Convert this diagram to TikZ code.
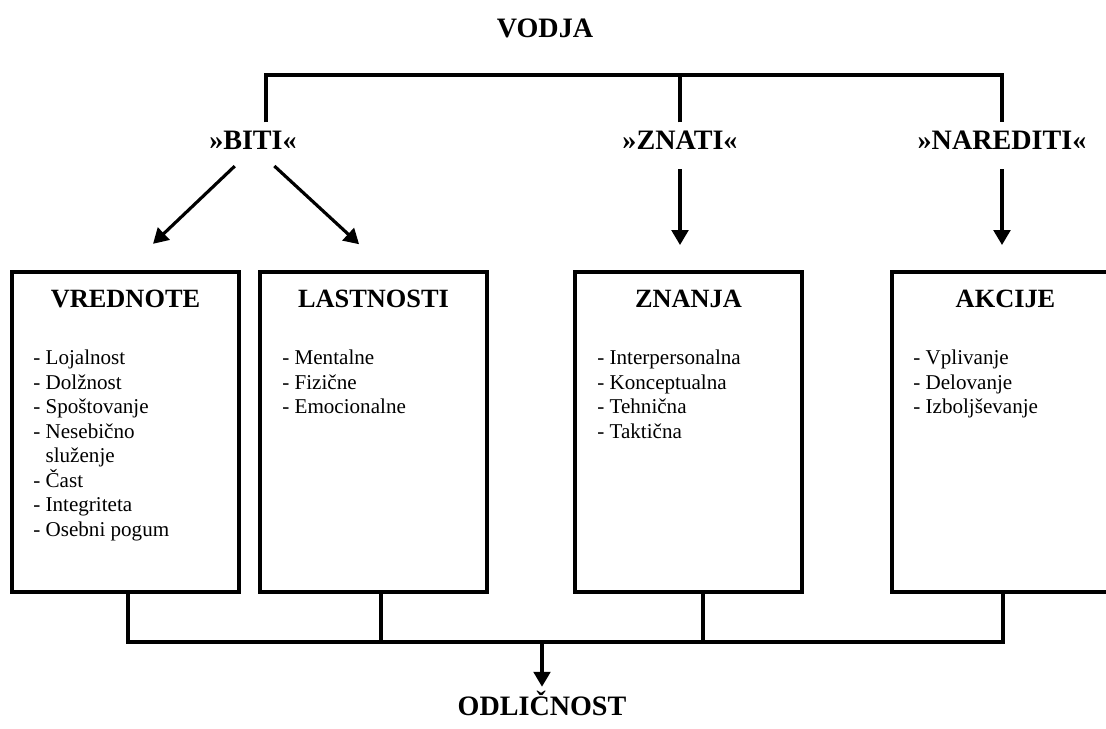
\documentclass[tikz,border=0pt]{standalone}
\usepackage{fontspec}
\setmainfont{Liberation Serif}
\usetikzlibrary{arrows.meta}

\begin{document}
\begin{tikzpicture}[
    x=0.02cm, y=-0.02cm,
    >={Triangle[length=8.5pt, width=9.5pt]},
    link/.style={line width=1.8pt},
    arrow/.style={->, line width=1.8pt},
    head/.style={font=\bfseries\fontsize{16}{19}\selectfont, anchor=base, inner sep=5pt},
    box/.style={draw, line width=2.3pt, minimum width=4.54cm, minimum height=6.4cm, inner sep=0pt},
    title/.style={font=\bfseries\fontsize{15}{18}\selectfont, anchor=base},
    item/.style={font=\fontsize{12}{14}\selectfont, anchor=base west, inner sep=0pt}
  ]

  \useasboundingbox (0,0) rectangle (1106,729);
  \clip (0,0) rectangle (1106,729);

  % Naslovi
  \node[head] (vodja)     at (545,38)  {VODJA};
  \node[head] (biti)      at (253,150) {»BITI«};
  \node[head] (znati)     at (680,150) {»ZNATI«};
  \node[head] (narediti)  at (1002,150) {»NAREDITI«};
  \node[head, inner sep=2pt] (odlicnost) at (542,715) {ODLIČNOST};

  % Okvirji
  \node[box] (vrednote)  at (125.5,432) {};
  \node[box] (lastnosti) at (373.5,432) {};
  \node[box] (znanja)    at (688.5,432) {};
  \node[box] (akcije)    at (1005.5,432) {};

  \foreach \n/\x/\t in {vrednote/125.5/VREDNOTE, lastnosti/373.5/LASTNOSTI, znanja/688.5/ZNANJA, akcije/1005.5/AKCIJE}
    \node[title] (t\n) at (\x,308) {\t};

  % Alineje
  \foreach \t [count=\i] in {- Lojalnost, - Dolžnost, - Spoštovanje, - Nesebično, \phantom{- }služenje, - Čast, - Integriteta, - Osebni pogum}
    \node[item] (vrednote\i) at (33, 340.5+24.5*\i) {\t};
  \foreach \t [count=\i] in {- Mentalne, - Fizične, - Emocionalne}
    \node[item] (lastnosti\i) at (282, 340.5+24.5*\i) {\t};
  \foreach \t [count=\i] in {- Interpersonalna, - Konceptualna, - Tehnična, - Taktična}
    \node[item] (znanja\i) at (597, 340.5+24.5*\i) {\t};
  \foreach \t [count=\i] in {- Vplivanje, - Delovanje, - Izboljševanje}
    \node[item] (akcije\i) at (913, 340.5+24.5*\i) {\t};

  % Zgornja veja
  \coordinate (top) at (680,75);
  \draw[link] ([xshift=0.26cm]biti.north) |- (top) -| (narediti.north);
  \draw[link] (znati.north) -- (znati.north |- top);

  % Puscice do okvirjev
  \draw[arrow, shorten <=0.2cm, shorten >=0.76cm] ([xshift=-0.22cm]biti.south) -- (vrednote.north);
  \draw[arrow, shorten <=0.2cm, shorten >=0.76cm] ([xshift=0.28cm]biti.south) -- ([xshift=0.27cm]lastnosti.north);
  \draw[arrow, shorten <=0.2cm, shorten >=0.5cm] (znati.south) -- (znati.south |- znanja.north);
  \draw[arrow, shorten <=0.2cm, shorten >=0.5cm] (narediti.south) -- (narediti.south |- akcije.north);

  % Spodnja veja
  \coordinate (bot) at (542,642);
  \draw[link] ([xshift=0.05cm]vrednote.south) |- (bot) -| ([xshift=-0.05cm]akcije.south);
  \draw[link] ([xshift=0.15cm]lastnosti.south) -- ([xshift=0.15cm]lastnosti.south |- bot);
  \draw[link] ([xshift=0.29cm]znanja.south) -- ([xshift=0.29cm]znanja.south |- bot);
  \draw[arrow] (bot) -- (odlicnost);

\end{tikzpicture}
\end{document}
